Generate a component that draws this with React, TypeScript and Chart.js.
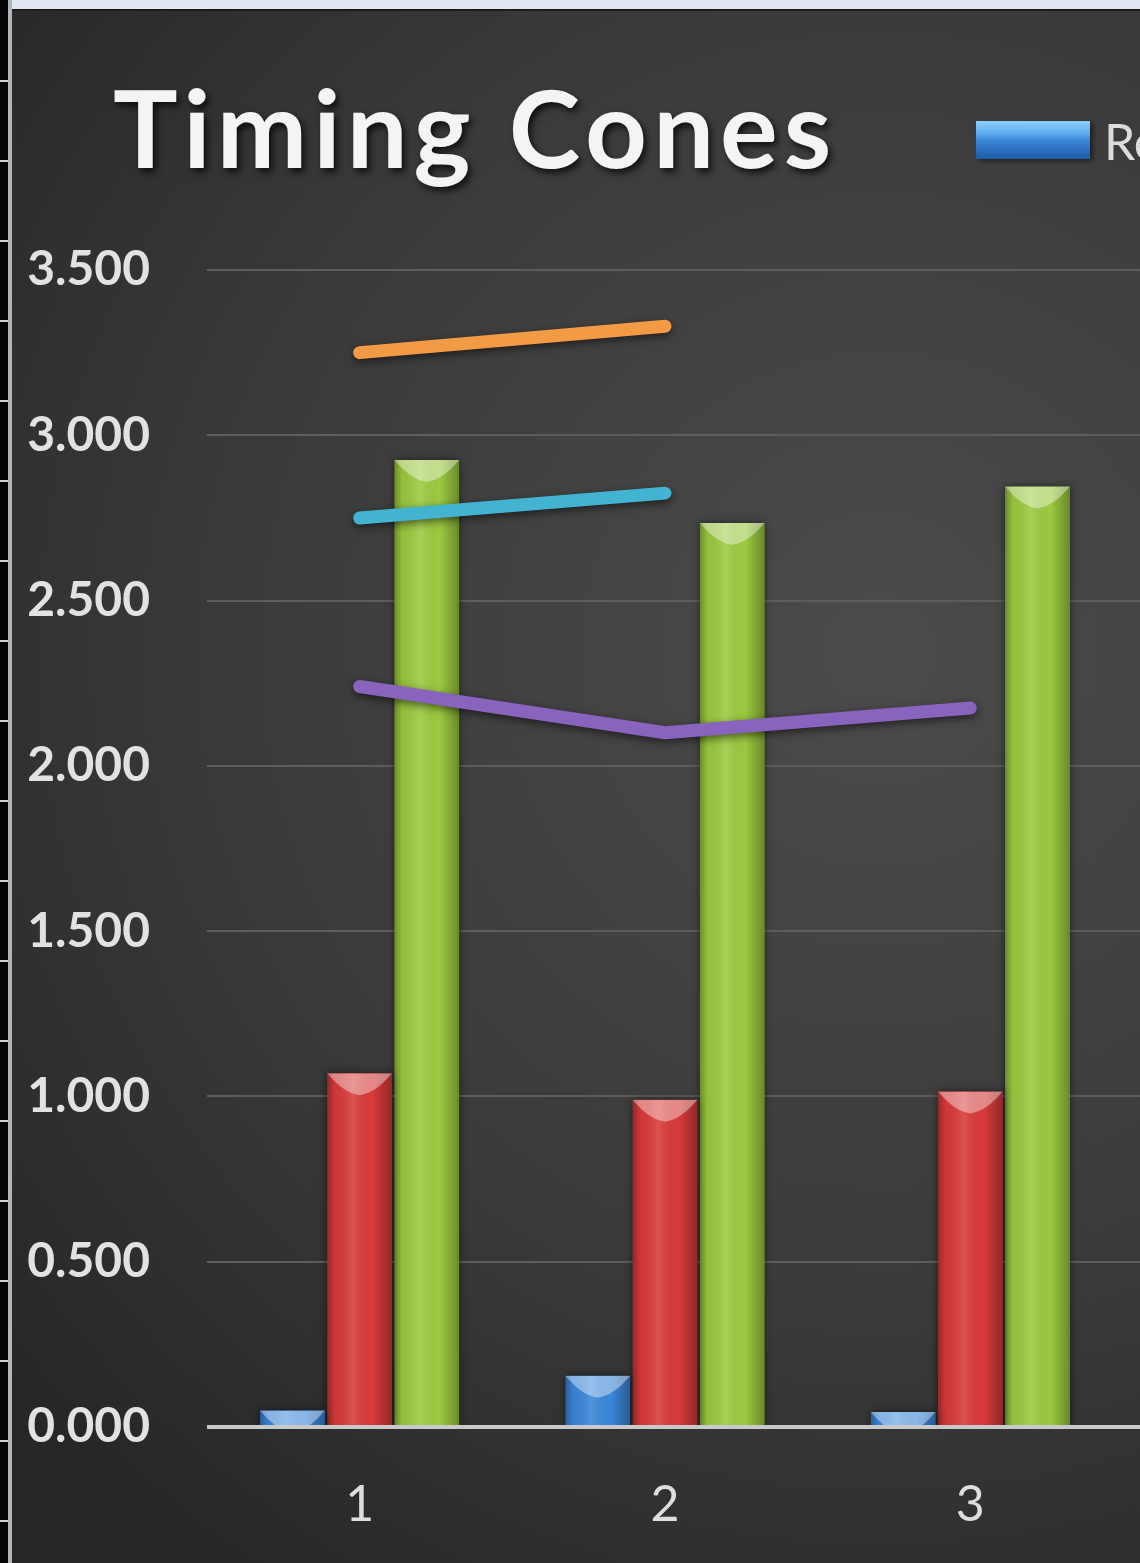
import React, { useEffect, useRef } from "react";
import { Chart, registerables, type Plugin } from "chart.js";

Chart.register(...registerables);

// data
const categories = ["1", "2", "3"];
const seriesNames = ["Reaction", "Split", "Total", "Best", "Target", "Average"];
const reactionValues = [0.05, 0.155, 0.045];
const splitValues = [1.07, 0.99, 1.015];
const totalValues = [2.925, 2.735, 2.845];
const bestValues = [3.25, 3.33, null];
const targetValues = [2.75, 2.825, null];
const averageValues = [2.24, 2.1, 2.175];
const yMax = 3.5;
const yStep = 0.5;

const FONT = "Lato, 'Open Sans', sans-serif";

const backgroundPlugin: Plugin = {
  id: "background",
  beforeDraw(chart) {
    const { ctx, width, height } = chart;
    ctx.save();
    const g = ctx.createRadialGradient(880, 650, 50, 880, 650, 1150);
    g.addColorStop(0, "#4a4a4a");
    g.addColorStop(0.55, "#3a3a3a");
    g.addColorStop(1, "#262626");
    ctx.fillStyle = g;
    ctx.fillRect(0, 0, width, height);
    ctx.restore();
  },
};

const gridPlugin: Plugin = {
  id: "fullGrid",
  beforeDatasetsDraw(chart) {
    const { ctx, chartArea, width } = chart;
    const y = chart.scales.y;
    ctx.save();
    y.ticks.forEach((t) => {
      if (t.value === 0) return;
      const py = Math.round(y.getPixelForValue(t.value));
      ctx.strokeStyle = "#5d5d5d";
      ctx.lineWidth = 2;
      ctx.beginPath();
      ctx.moveTo(chartArea.left, py);
      ctx.lineTo(width, py);
      ctx.stroke();
    });
    ctx.restore();
  },
  afterDatasetsDraw(chart) {
    const { ctx, chartArea, width } = chart;
    const py = chart.scales.y.getPixelForValue(0);
    ctx.save();
    ctx.strokeStyle = "#c9c9c9";
    ctx.lineWidth = 4;
    ctx.beginPath();
    ctx.moveTo(chartArea.left, py);
    ctx.lineTo(width, py);
    ctx.stroke();
    ctx.restore();
  },
};

const shadePlugin: Plugin = {
  id: "shade",
  beforeDatasetDraw(chart, args) {
    const ctx = chart.ctx;
    ctx.save();
    ctx.shadowColor = "rgba(0,0,0,0.55)";
    ctx.shadowBlur = 8;
    ctx.shadowOffsetY = args.meta.type === "line" ? 3 : 0;
  },
  afterDatasetDraw(chart, args) {
    const ctx = chart.ctx;
    ctx.restore();
    if (args.meta.type !== "bar") return;
    args.meta.data.forEach((el: any) => {
      const { x, y, base, width } = el.getProps(["x", "y", "base", "width"], true);
      const left = x - width / 2;
      const right = x + width / 2;
      const h = base - y;
      if (h <= 0) return;
      ctx.save();
      ctx.beginPath();
      ctx.rect(left, y, width, h);
      ctx.clip();
      const g = ctx.createLinearGradient(left, 0, right, 0);
      g.addColorStop(0, "rgba(0,0,0,0.3)");
      g.addColorStop(0.12, "rgba(0,0,0,0.05)");
      g.addColorStop(0.4, "rgba(255,255,255,0.12)");
      g.addColorStop(0.7, "rgba(0,0,0,0)");
      g.addColorStop(1, "rgba(0,0,0,0.32)");
      ctx.fillStyle = g;
      ctx.fillRect(left, y, width, h);
      // bevelled top
      const bh = width * 0.34;
      ctx.beginPath();
      ctx.moveTo(left, y);
      ctx.lineTo(right, y);
      ctx.quadraticCurveTo(right - width * 0.25, y + bh * 0.9, x, y + bh);
      ctx.quadraticCurveTo(left + width * 0.25, y + bh * 0.9, left, y);
      ctx.fillStyle = "rgba(255,255,255,0.4)";
      ctx.fill();
      ctx.restore();
    });
  },
};

const headerPlugin: Plugin = {
  id: "header",
  afterDraw(chart) {
    const ctx = chart.ctx;
    ctx.save();
    // title
    ctx.font = `bold 108px ${FONT}`;
    (ctx as any).letterSpacing = "6px";
    ctx.textAlign = "left";
    ctx.textBaseline = "alphabetic";
    ctx.shadowColor = "rgba(0,0,0,0.75)";
    ctx.shadowBlur = 7;
    ctx.shadowOffsetX = 3;
    ctx.shadowOffsetY = 4;
    ctx.fillStyle = "#f4f4f4";
    ctx.fillText("Timing Cones", 113, 168);
    (ctx as any).letterSpacing = "0px";
    // legend (runs off the right edge)
    let lx = 976;
    chart.data.datasets.forEach((ds: any) => {
      const col = Array.isArray(ds.backgroundColor) ? ds.backgroundColor[0] : ds.borderColor;
      ctx.shadowColor = "rgba(0,0,0,0.5)";
      ctx.shadowBlur = 5;
      ctx.shadowOffsetY = 2;
      const sg = ctx.createLinearGradient(0, 121, 0, 159);
      sg.addColorStop(0, "#8fd0ff");
      sg.addColorStop(0.35, "#5aa8ec");
      sg.addColorStop(0.5, col);
      sg.addColorStop(1, "#1f5aa8");
      ctx.fillStyle = ds.type === "line" ? ds.borderColor : sg;
      ctx.fillRect(lx, 121, 114, 38);
      ctx.shadowColor = "transparent";
      ctx.font = `50px ${FONT}`;
      ctx.fillStyle = "#dcdcdc";
      ctx.fillText(ds.label, lx + 128, 160);
      lx += 128 + ctx.measureText(ds.label).width + 40;
    });
    ctx.restore();
  },
};

const TimingCones = () => {
  const chartRef = useRef<HTMLCanvasElement>(null);

  useEffect(() => {
    document.body.style.margin = "0";
    const ctx = chartRef.current?.getContext("2d");
    if (!ctx) return;

    const barBase = {
      type: "bar" as const,
      order: 2,
      categoryPercentage: 0.66,
      barPercentage: 0.96,
      borderWidth: 0,
    };
    const lineBase = {
      type: "line" as const,
      order: 1,
      borderWidth: 13,
      borderCapStyle: "round" as const,
      borderJoinStyle: "round" as const,
      pointRadius: 0,
      tension: 0,
      fill: false,
    };

    const chart = new Chart(ctx, {
      type: "bar",
      data: {
        labels: categories,
        datasets: [
          { ...barBase, label: seriesNames[0], data: reactionValues, backgroundColor: ["#3b87da", "#3b87da", "#3b87da"] },
          { ...barBase, label: seriesNames[1], data: splitValues, backgroundColor: ["#d93a3a", "#d93a3a", "#d93a3a"] },
          { ...barBase, label: seriesNames[2], data: totalValues, backgroundColor: ["#9cca40", "#9cca40", "#9cca40"] },
          { ...lineBase, label: seriesNames[3], data: bestValues, borderColor: "#f39a44" } as any,
          { ...lineBase, label: seriesNames[4], data: targetValues, borderColor: "#43b3d2" } as any,
          { ...lineBase, label: seriesNames[5], data: averageValues, borderColor: "#8963bd" } as any,
        ],
      },
      options: {
        animation: false,
        responsive: false,
        devicePixelRatio: 1,
        layout: { padding: { top: 270, right: 17, bottom: 0, left: 0 } },
        plugins: {
          legend: { display: false },
          title: { display: false },
          tooltip: { enabled: false },
        },
        scales: {
          x: {
            grid: { display: false },
            border: { display: false },
            ticks: {
              color: "#dedede",
              font: { family: FONT, size: 50 },
              padding: 40,
            },
            afterFit: (scale) => {
              scale.height = 136;
            },
          },
          y: {
            min: 0,
            max: yMax,
            grid: { display: false, drawTicks: false },
            border: { display: false },
            ticks: {
              stepSize: yStep,
              color: "#e2e2e2",
              font: { family: FONT, size: 48, weight: "bold" },
              padding: 57,
              callback: (v) => Number(v).toFixed(3),
            },
            afterFit: (scale) => {
              scale.width = 207;
            },
          },
        },
      },
      plugins: [backgroundPlugin, gridPlugin, shadePlugin, headerPlugin],
    });

    return () => {
      chart.destroy();
    };
  }, []);

  return (
    <div style={{ position: "relative", width: 1140, height: 1563, overflow: "hidden", background: "#333" }}>
      <canvas ref={chartRef} width={1140} height={1563} style={{ display: "block" }}></canvas>
      {/* window chrome at the edges of the screenshot */}
      <div style={{ position: "absolute", left: 0, top: 0, width: 1140, height: 9, background: "#dfe7f1", borderBottom: "2px solid #1b1b1b" }} />
      <div
        style={{
          position: "absolute",
          left: 0,
          top: 0,
          width: 8,
          height: 1563,
          background: "repeating-linear-gradient(to bottom, #050505 0px, #050505 78px, #d0d0d0 78px, #d0d0d0 80px)",
          backgroundPosition: "0 2px",
        }}
      />
      <div style={{ position: "absolute", left: 8, top: 0, width: 4, height: 1563, background: "#b4b4bc" }} />
    </div>
  );
};

export default function App() {
  return <TimingCones />;
}
